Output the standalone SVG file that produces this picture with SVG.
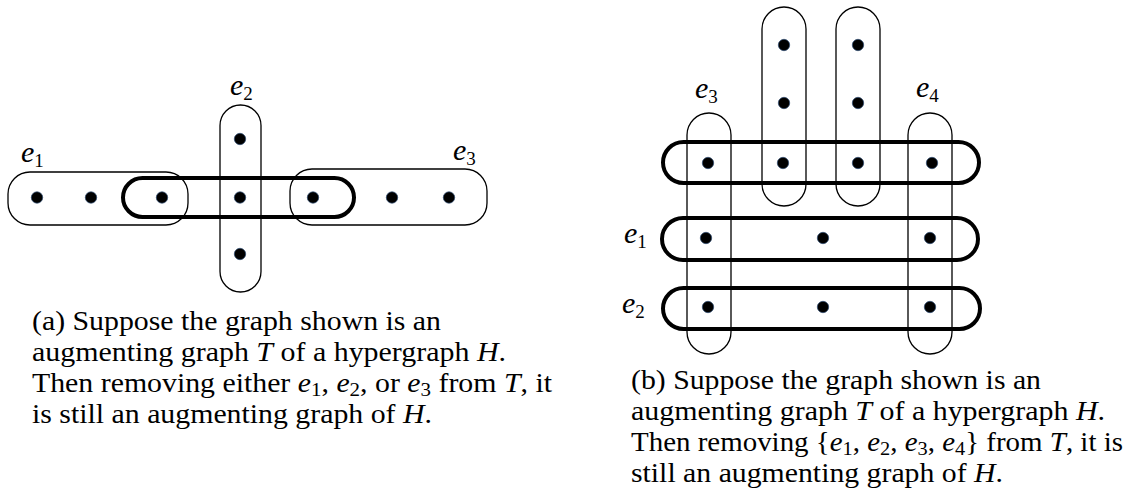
<svg xmlns="http://www.w3.org/2000/svg" width="1127" height="493" viewBox="0 0 1127 493">
<style>
.thin{fill:none;stroke:#000;stroke-width:1.3}
.thick{fill:none;stroke:#000;stroke-width:4}
.dot{fill:#000;stroke:#2c4a70;stroke-width:1;stroke-opacity:0.7}
.lab{font-family:"Liberation Serif",serif;font-style:italic;font-size:30px;fill:#000}
.sub{font-size:19px;font-style:normal}
.cap{font-family:"Liberation Serif",serif;font-size:27px;fill:#000}
.m{font-style:italic}
.cs{font-size:19px}
</style>
<defs>
<circle id="v" r="5.7"/>
</defs>
<g id="connectors"/>
<g id="fig-a">
  <g id="a-e1"><rect class="thin" x="8" y="172" width="180" height="53" rx="22"/></g>
  <g id="a-e3"><rect class="thin" x="290" y="169" width="197" height="56" rx="22"/></g>
  <g id="a-e2"><rect class="thin" x="220" y="105" width="41" height="187" rx="20.5"/></g>
  <g id="a-center"><rect class="thick" x="123" y="178" width="231" height="39" rx="19.5"/></g>
  <g id="a-vertices" class="dot">
    <use href="#v" x="37" y="197.5"/><use href="#v" x="91" y="197.5"/><use href="#v" x="162" y="197.5"/>
    <use href="#v" x="240" y="197.5"/><use href="#v" x="313" y="197.5"/><use href="#v" x="392" y="197.5"/>
    <use href="#v" x="449" y="197.5"/><use href="#v" x="240" y="139"/><use href="#v" x="240" y="254"/>
  </g>
  <g id="a-labels">
    <text class="lab" x="21" y="162">e<tspan class="sub" dy="5">1</tspan></text>
    <text class="lab" x="230" y="95">e<tspan class="sub" dy="5">2</tspan></text>
    <text class="lab" x="453" y="160">e<tspan class="sub" dy="5">3</tspan></text>
  </g>
  <g id="a-caption" class="cap">
    <text x="32" y="330" textLength="409" lengthAdjust="spacingAndGlyphs">(a) Suppose the graph shown is an</text>
    <text x="32" y="361" textLength="474" lengthAdjust="spacingAndGlyphs">augmenting graph <tspan class="m">T</tspan> of a hypergraph <tspan class="m">H</tspan>.</text>
    <text x="32" y="392" textLength="520" lengthAdjust="spacingAndGlyphs">Then removing either <tspan class="m">e</tspan><tspan class="cs" dy="4">1</tspan><tspan dy="-4">, </tspan><tspan class="m">e</tspan><tspan class="cs" dy="4">2</tspan><tspan dy="-4">, or </tspan><tspan class="m">e</tspan><tspan class="cs" dy="4">3</tspan><tspan dy="-4"> from </tspan><tspan class="m">T</tspan>, it</text>
    <text x="32" y="423" textLength="400" lengthAdjust="spacingAndGlyphs">is still an augmenting graph of <tspan class="m">H</tspan>.</text>
  </g>
</g>
<g id="fig-b">
  <g id="b-v1"><rect class="thin" x="762" y="7" width="44" height="199" rx="22"/></g>
  <g id="b-v2"><rect class="thin" x="836" y="7" width="44" height="199" rx="22"/></g>
  <g id="b-e3"><rect class="thin" x="687" y="113" width="44" height="241" rx="22"/></g>
  <g id="b-e4"><rect class="thin" x="908" y="113" width="44" height="241" rx="22"/></g>
  <g id="b-top"><rect class="thick" x="663" y="142" width="316" height="41" rx="20.5"/></g>
  <g id="b-e1"><rect class="thick" x="662" y="218" width="316" height="42" rx="21"/></g>
  <g id="b-e2"><rect class="thick" x="663" y="288" width="317" height="41" rx="20.5"/></g>
  <g id="b-vertices" class="dot">
    <use href="#v" x="784" y="45"/><use href="#v" x="858" y="45"/>
    <use href="#v" x="784" y="103"/><use href="#v" x="858" y="103"/>
    <use href="#v" x="708" y="163"/><use href="#v" x="783" y="163"/><use href="#v" x="858" y="163"/><use href="#v" x="932" y="163"/>
    <use href="#v" x="706" y="238"/><use href="#v" x="823" y="238"/><use href="#v" x="930" y="238"/>
    <use href="#v" x="708" y="307"/><use href="#v" x="823" y="307"/><use href="#v" x="930" y="307"/>
  </g>
  <g id="b-labels">
    <text class="lab" x="695" y="98">e<tspan class="sub" dy="5">3</tspan></text>
    <text class="lab" x="916" y="97">e<tspan class="sub" dy="5">4</tspan></text>
    <text class="lab" x="624" y="243">e<tspan class="sub" dy="5">1</tspan></text>
    <text class="lab" x="622" y="313">e<tspan class="sub" dy="5">2</tspan></text>
  </g>
  <g id="b-caption" class="cap">
    <text x="631" y="389" textLength="410" lengthAdjust="spacingAndGlyphs">(b) Suppose the graph shown is an</text>
    <text x="631" y="420" textLength="474" lengthAdjust="spacingAndGlyphs">augmenting graph <tspan class="m">T</tspan> of a hypergraph <tspan class="m">H</tspan>.</text>
    <text x="631" y="451" textLength="492" lengthAdjust="spacingAndGlyphs">Then removing {<tspan class="m">e</tspan><tspan class="cs" dy="4">1</tspan><tspan dy="-4">, </tspan><tspan class="m">e</tspan><tspan class="cs" dy="4">2</tspan><tspan dy="-4">, </tspan><tspan class="m">e</tspan><tspan class="cs" dy="4">3</tspan><tspan dy="-4">, </tspan><tspan class="m">e</tspan><tspan class="cs" dy="4">4</tspan><tspan dy="-4">} from </tspan><tspan class="m">T</tspan>, it is</text>
    <text x="631" y="482" textLength="372" lengthAdjust="spacingAndGlyphs">still an augmenting graph of <tspan class="m">H</tspan>.</text>
  </g>
</g>
</svg>
